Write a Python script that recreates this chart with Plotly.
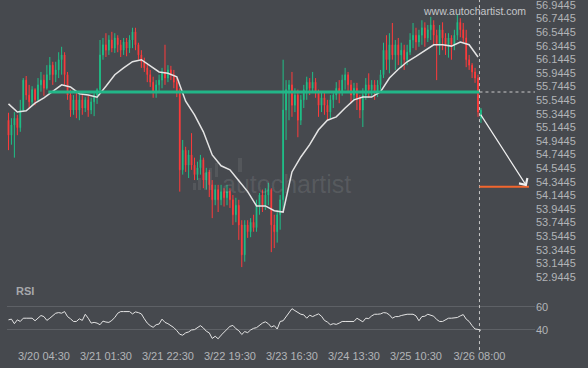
import plotly.graph_objects as go
import pandas as pd

# ---------------- data ----------------
times = pd.date_range("2024-03-19 16:30", periods=161, freq="h")

open_ = [55.25, 55.03, 55.18, 55.28, 55.14, 55.40, 55.84, 55.62, 55.52, 55.70,
         55.55, 55.77, 55.84, 55.72, 55.92, 56.06, 55.92, 55.99, 56.14, 56.21,
         55.92, 55.62, 55.40, 55.55, 55.40, 55.55, 55.43, 55.55, 55.40, 55.52,
         55.62, 55.70, 56.21, 56.36, 56.28, 56.43, 56.31, 56.46, 56.36, 56.28,
         56.40, 56.31, 56.43, 56.55, 56.36, 56.21, 56.11, 56.02, 55.92, 55.81,
         55.67, 55.77, 55.84, 55.96, 55.87, 55.99, 55.92, 55.81, 55.67, 54.52,
         54.81, 54.59, 54.74, 54.59, 54.45, 54.55, 54.67, 54.37, 54.49, 54.30,
         54.08, 54.23, 54.08, 54.20, 54.11, 54.20, 54.08, 53.86, 54.00, 53.71,
         53.27, 53.71, 53.61, 53.75, 53.67, 54.00, 54.15, 54.00, 54.15, 54.23,
         53.71, 53.61, 53.86, 54.08, 55.40, 55.70, 55.77, 55.47, 55.62, 55.25,
         55.55, 55.70, 55.81, 55.72, 55.81, 55.67, 55.47, 55.58, 55.47, 55.37,
         55.55, 55.62, 55.72, 55.67, 55.84, 55.92, 55.77, 55.62, 55.72, 55.58,
         55.40, 55.62, 55.77, 55.70, 55.77, 55.67, 55.77, 55.92, 56.28, 56.14,
         56.36, 56.21, 56.36, 56.21, 56.28, 56.14, 56.25, 56.43, 56.50, 56.40,
         56.50, 56.61, 56.46, 56.58, 56.65, 56.50, 56.36, 56.58, 56.46, 56.36,
         56.46, 56.36, 56.50, 56.69, 56.58, 56.46, 56.14, 56.06, 55.96, 55.87,
         55.28]

high = [55.36, 55.28, 55.37, 55.33, 55.55, 55.87, 55.90, 55.77, 55.75, 55.72,
        55.87, 55.96, 55.92, 56.06, 56.18, 56.11, 56.11, 56.25, 56.33, 56.25,
        55.96, 55.70, 55.62, 55.65, 55.62, 55.62, 55.59, 55.61, 55.58, 55.67,
        55.72, 56.43, 56.46, 56.53, 56.50, 56.55, 56.53, 56.50, 56.43, 56.46,
        56.46, 56.50, 56.61, 56.61, 56.39, 56.28, 56.17, 56.09, 55.99, 55.89,
        55.84, 55.92, 56.02, 56.36, 56.06, 56.05, 55.99, 55.87, 55.72, 54.96,
        54.86, 54.81, 55.06, 54.70, 54.64, 54.74, 54.70, 54.55, 54.52, 54.37,
        54.30, 54.30, 54.30, 54.25, 54.30, 54.25, 54.15, 54.11, 54.08, 53.78,
        53.78, 53.78, 53.81, 53.86, 54.08, 54.18, 54.23, 54.25, 54.33, 54.25,
        53.86, 53.93, 54.15, 56.14, 55.84, 55.84, 55.96, 55.72, 55.70, 55.62,
        55.77, 55.89, 55.87, 55.96, 55.87, 55.70, 55.67, 55.65, 55.55, 55.62,
        55.67, 55.81, 55.84, 55.92, 56.02, 55.96, 55.84, 55.80, 55.80, 55.62,
        55.72, 55.87, 55.94, 55.84, 55.84, 55.84, 55.99, 56.39, 56.50, 56.53,
        56.68, 56.43, 56.46, 56.39, 56.36, 56.36, 56.53, 56.68, 56.61, 56.58,
        56.72, 56.69, 56.65, 56.77, 56.72, 56.58, 56.65, 56.69, 56.53, 56.53,
        56.50, 56.58, 56.80, 56.75, 56.68, 56.58, 56.21, 56.09, 56.02, 55.92,
        55.43]

low = [54.81, 54.89, 54.70, 55.03, 55.08, 55.37, 55.55, 55.43, 55.46, 55.47,
       55.52, 55.67, 55.61, 55.70, 55.84, 55.77, 55.81, 55.87, 55.92, 55.77,
       55.55, 55.30, 55.33, 55.28, 55.25, 55.33, 55.37, 55.30, 55.34, 55.31,
       55.49, 55.67, 56.14, 56.18, 56.21, 56.25, 56.24, 56.25, 56.18, 56.21,
       56.19, 56.24, 56.31, 56.28, 56.14, 56.02, 55.96, 55.81, 55.74, 55.58,
       55.58, 55.67, 55.72, 55.77, 55.81, 55.84, 55.72, 55.59, 54.20, 54.45,
       54.49, 54.40, 54.52, 54.37, 54.37, 54.45, 54.25, 54.23, 54.12, 53.81,
       54.00, 53.90, 54.00, 53.98, 54.00, 53.96, 53.71, 53.75, 53.49, 53.09,
       53.17, 53.52, 53.53, 53.61, 53.61, 53.86, 53.90, 53.93, 54.00, 53.31,
       53.37, 53.45, 53.64, 53.93, 54.96, 55.25, 55.30, 55.37, 55.00, 55.18,
       55.43, 55.55, 55.62, 55.65, 55.58, 55.30, 55.37, 55.33, 55.25, 55.28,
       55.43, 55.55, 55.50, 55.61, 55.70, 55.65, 55.50, 55.55, 55.40, 55.28,
       55.15, 55.55, 55.58, 55.61, 55.55, 55.59, 55.70, 55.87, 55.99, 55.94,
       56.14, 55.99, 56.06, 56.02, 55.99, 56.06, 56.21, 56.31, 56.28, 56.33,
       56.36, 56.33, 56.40, 56.43, 56.36, 55.84, 56.21, 56.28, 56.21, 56.17,
       56.14, 56.28, 56.43, 56.47, 56.39, 56.03, 55.99, 55.87, 55.80, 55.30,
       55.21]

close = [55.03, 55.18, 55.28, 55.14, 55.40, 55.84, 55.62, 55.52, 55.70, 55.55,
         55.77, 55.84, 55.72, 55.92, 56.06, 55.92, 55.99, 56.14, 56.21, 55.92,
         55.62, 55.40, 55.55, 55.40, 55.55, 55.43, 55.55, 55.40, 55.52, 55.62,
         55.70, 56.21, 56.36, 56.28, 56.43, 56.31, 56.46, 56.36, 56.28, 56.40,
         56.31, 56.43, 56.55, 56.36, 56.21, 56.11, 56.02, 55.92, 55.81, 55.67,
         55.77, 55.84, 55.96, 55.87, 55.99, 55.92, 55.81, 55.67, 54.52, 54.81,
         54.59, 54.74, 54.59, 54.45, 54.55, 54.67, 54.37, 54.49, 54.30, 54.08,
         54.23, 54.08, 54.20, 54.11, 54.20, 54.08, 53.86, 54.00, 53.71, 53.27,
         53.71, 53.61, 53.75, 53.67, 54.00, 54.15, 54.00, 54.15, 54.23, 53.71,
         53.61, 53.86, 54.08, 55.40, 55.70, 55.77, 55.47, 55.62, 55.25, 55.55,
         55.70, 55.81, 55.72, 55.81, 55.67, 55.47, 55.58, 55.47, 55.37, 55.55,
         55.62, 55.72, 55.67, 55.84, 55.92, 55.77, 55.62, 55.72, 55.58, 55.40,
         55.62, 55.77, 55.70, 55.77, 55.67, 55.77, 55.92, 56.28, 56.14, 56.36,
         56.21, 56.36, 56.21, 56.28, 56.14, 56.25, 56.43, 56.50, 56.40, 56.50,
         56.61, 56.46, 56.58, 56.65, 56.50, 56.36, 56.58, 56.46, 56.36, 56.46,
         56.36, 56.50, 56.69, 56.58, 56.46, 56.14, 56.06, 55.96, 55.87, 55.37,
         55.40]

ma_values = [55.49, 55.37, 55.39, 55.50, 55.58, 55.68, 55.77, 55.74, 55.64, 55.62,
             55.59, 55.75, 55.92, 56.02, 56.11, 56.14, 56.05, 55.96, 55.94, 55.89,
             55.53, 55.33, 55.08, 54.74, 54.58, 54.52, 54.36, 54.20, 53.99, 53.99,
             53.92, 53.90, 54.49, 54.71, 54.89, 55.11, 55.25, 55.30, 55.43, 55.55,
             55.59, 55.59, 55.67, 55.87, 56.00, 56.11, 56.19, 56.28, 56.36, 56.36,
             56.34, 56.40, 56.36, 56.18]
ma_times = times[0:160:3]

rsi = [48.7, 49.3, 45.4, 48.7, 47.3, 50.1, 50.1, 50.1, 50.1, 47.9,
       50.1, 52.4, 51.5, 48.2, 50.1, 52.1, 54.4, 54.9, 54.4, 55.8,
       51.5, 49.6, 47.3, 47.3, 49.6, 48.2, 53.5, 50.1, 45.9, 46.5,
       45.9, 44.5, 47.6, 46.8, 46.5, 48.2, 50.7, 54.4, 55.8, 55.8,
       55.8, 55.8, 53.8, 55.5, 54.9, 53.8, 49.6, 45.9, 43.7, 42.3,
       44.5, 45.1, 49.3, 46.5, 45.4, 43.7, 42.0, 39.4, 36.3, 35.5,
       37.5, 38.3, 40.0, 40.3, 41.7, 43.7, 41.7, 38.9, 37.5, 32.7,
       34.6, 32.4, 35.5, 38.0, 40.0, 43.1, 43.9, 41.1, 39.4, 36.1,
       38.6, 37.7, 40.0, 41.4, 42.0, 43.9, 45.9, 47.0, 45.4, 42.5,
       43.7, 40.8, 47.3, 47.9, 51.5, 54.9, 58.3, 56.6, 55.2, 53.5,
       53.0, 50.1, 52.7, 51.5, 52.7, 53.8, 51.8, 48.2, 46.8, 44.5,
       45.4, 44.8, 45.9, 47.3, 47.3, 47.3, 47.3, 47.3, 50.1, 48.5,
       47.0, 50.1, 49.8, 52.1, 53.5, 53.5, 53.8, 54.9, 54.6, 53.0,
       50.1, 51.5, 51.5, 52.4, 53.0, 53.5, 53.5, 53.5, 52.1, 47.9,
       51.5, 51.8, 53.5, 52.7, 51.8, 49.0, 47.3, 47.3, 48.7, 50.1,
       50.1, 50.1, 50.7, 52.1, 53.2, 49.3, 47.3, 43.7, 40.8, 40.5,
       39.7]

price_tickvals = [52.9445 + 0.2 * i for i in range(21)]
price_ticktext = ["%.4f" % v for v in price_tickvals]
rsi_tickvals = [40, 60]

x_tickvals = ["2024-03-20 04:30", "2024-03-21 01:30", "2024-03-21 22:30", "2024-03-22 19:30",
              "2024-03-23 16:30", "2024-03-24 13:30", "2024-03-25 10:30", "2024-03-26 08:00"]
x_ticktext = ["3/20 04:30", "3/21 01:30", "3/21 22:30", "3/22 19:30",
              "3/23 16:30", "3/24 13:30", "3/25 10:30", "3/26 08:00"]

level_price = 55.665
level_start = "2024-03-20 06:00"
signal_time = "2024-03-26 08:00"
signal_price = 55.35
target_price = 54.27
target_end = "2024-03-27 00:45"
arrow_end = "2024-03-27 00:00"
x_start = "2024-03-19 16:00"
x_end = "2024-03-27 02:48"

# ---------------- style ----------------
BG = "#46494e"
GREEN = "#1fbf87"
RED = "#ff3b3b"
TEAL = "#22b688"
ORANGE = "#f2662e"
TXT = "#b2b4b7"
FONT = "Liberation Sans, Arial, sans-serif"

W, H = 588, 368
ML, MR, MT, MB = 7, 53, 0, 20
PW, PH = W - ML - MR, H - MT - MB


def px(xp):
    return (xp - ML) / PW


def py(yp):
    return (H - MB - yp) / PH


fig = go.Figure()
fig.add_trace(go.Candlestick(
    x=times, open=open_, high=high, low=low, close=close,
    increasing=dict(line=dict(color=GREEN, width=1), fillcolor=GREEN),
    decreasing=dict(line=dict(color=RED, width=1), fillcolor=RED),
    whiskerwidth=0, xaxis="x", yaxis="y", hoverinfo="skip"))
fig.add_trace(go.Scatter(x=ma_times, y=ma_values, mode="lines",
                         line=dict(color="#e4e4e4", width=1.5), xaxis="x", yaxis="y"))
fig.add_trace(go.Scatter(x=times, y=rsi, mode="lines",
                         line=dict(color="#e4e4e4", width=1), xaxis="x", yaxis="y2"))

shapes = [
    dict(type="line", xref="x", yref="y", x0=level_start, x1=signal_time,
         y0=level_price, y1=level_price, line=dict(color=TEAL, width=3)),
    dict(type="line", xref="x", yref="y", x0=signal_time, x1=x_end,
         y0=level_price, y1=level_price, line=dict(color="#c9c9c9", width=1, dash="3px,3px")),
    dict(type="line", xref="x", yref="paper", x0=signal_time, x1=signal_time,
         y0=-0.006, y1=1, line=dict(color="#c9c9c9", width=1, dash="3px,3px")),
    dict(type="line", xref="x", yref="y", x0=signal_time, x1=target_end,
         y0=target_price, y1=target_price, line=dict(color=ORANGE, width=2)),
]
# faint logo bars of the central watermark
for (x0, y0, x1, y1) in [(193, 183, 196, 190), (198, 178, 201, 190), (204, 173, 207, 190),
                         (209, 168, 212, 190), (215, 163, 218, 177), (238, 158, 242, 172)]:
    shapes.append(dict(type="rect", xref="paper", yref="paper", x0=px(x0), x1=px(x1),
                       y0=py(y1), y1=py(y0), line=dict(width=0),
                       fillcolor="rgba(255,255,255,0.08)"))

annotations = [
    dict(x=arrow_end, y=target_price + 0.01, xref="x", yref="y", ax=-47, ay=-73,
         showarrow=True, arrowhead=4, arrowsize=1.6, arrowwidth=1.2, arrowcolor="#f0f0f0", text=""),
    dict(text="<b>RSI</b>", xref="paper", yref="paper", x=px(14), y=py(291),
         xanchor="left", yanchor="middle", showarrow=False,
         font=dict(family=FONT, size=11, color="#a6a8ab")),
    dict(text="www.autochartist.com", xref="paper", yref="paper", x=px(528), y=py(11),
         xanchor="right", yanchor="middle", showarrow=False,
         font=dict(family=FONT, size=10.5, color="#c4c6c9")),
    dict(text="autochartist", xref="paper", yref="paper", x=px(286), y=py(184),
         xanchor="center", yanchor="middle", showarrow=False,
         font=dict(family=FONT, size=25, color="rgba(255,255,255,0.10)")),
]

fig.update_layout(
    width=W, height=H,
    margin=dict(l=ML, r=MR, t=MT, b=MB, pad=0),
    paper_bgcolor=BG, plot_bgcolor=BG,
    showlegend=False,
    boxgap=0.65,
    font=dict(family=FONT, size=11, color=TXT),
    xaxis=dict(domain=[0, 1], anchor="y2", range=[x_start, x_end], type="date",
               rangeslider=dict(visible=False), showgrid=False, zeroline=False,
               showline=False, ticks="", tickvals=x_tickvals, ticktext=x_ticktext,
               tickfont=dict(size=11, color=TXT)),
    yaxis=dict(domain=[1 - 285 / PH, 1], anchor="x", side="right",
               range=[52.827, 57.018], showgrid=False, zeroline=False, showline=False,
               ticks="", tickvals=price_tickvals, ticktext=price_ticktext,
               ticklabeloverflow="allow",
               tickfont=dict(size=11, color=TXT)),
    yaxis2=dict(domain=[0, (PH - 289) / PH], anchor="x", side="right",
                range=[24.5, 75.2], showgrid=True, gridcolor="#5e6166", gridwidth=1,
                zeroline=False, showline=False, ticks="", tickvals=rsi_tickvals,
                tickfont=dict(size=11, color=TXT)),
    shapes=shapes,
    annotations=annotations,
    hovermode=False,
)

fig.write_html("out.html")
